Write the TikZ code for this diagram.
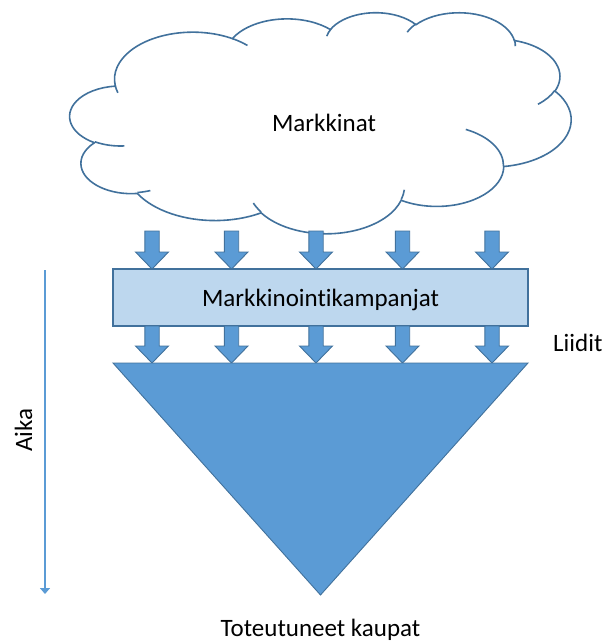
\documentclass[tikz,border=0pt]{standalone}
\usepackage{fontspec}
\setmainfont{Carlito}[Ligatures={NoCommon}]
\usetikzlibrary{arrows.meta}
\definecolor{accent}{HTML}{5B9BD5}
\definecolor{outl}{HTML}{41719C}
\definecolor{light}{HTML}{BDD7EE}
\newcommand\ooprep[5]{%
  \pgfmathsetmacro\ooT{atan2((#2)*sin(#4),(#3)*cos(#4))}%
  \pgfmathsetmacro\ooU{atan2((#2)*sin((#4)+(#5)),(#3)*cos((#4)+(#5)))}%
  \pgfmathsetmacro\ooV{mod((\ooU)-(\ooT)+720,360)}%
  \expandafter\let\csname ooS#1\endcsname\ooT
  \expandafter\let\csname ooD#1\endcsname\ooV}
\newcommand\ooS[1]{\csname ooS#1\endcsname}
\newcommand\ooD[1]{\csname ooD#1\endcsname}
\ooprep{1}{67.53}{91.90}{-190.48748}{123.78053}
\ooprep{2}{53.33}{72.67}{-144.10238}{89.94523}
\ooprep{3}{43.65}{59.45}{-145.80792}{99.72302}
\ooprep{4}{48.57}{65.95}{-130.98607}{117.24173}
\ooprep{5}{53.33}{72.73}{-78.70888}{109.02692}
\ooprep{6}{67.75}{92.20}{-46.26725}{130.269}
\ooprep{7}{57.85}{78.67}{0.62502}{114.03333}
\ooprep{8}{67.52}{92.15}{22.4516}{115.17255}
\ooprep{9}{77.20}{105.43}{66.24263}{75.71102}
\ooprep{10}{43.60}{59.18}{-274.94208}{146.73557}
\ooprep{11}{43.45}{59.45}{-246.8285}{152.51885}
\ooprep{21}{43.45}{59.45}{86.742}{26.4295}
\ooprep{22}{43.60}{59.18}{73.61047}{11.44747}
\ooprep{23}{67.52}{92.15}{137.62415}{14.0811}
\ooprep{24}{67.52}{92.15}{6.45327}{15.99835}
\ooprep{25}{57.85}{78.67}{-70.29235}{70.91737}
\ooprep{26}{53.33}{72.73}{30.31803}{27.7515}
\ooprep{27}{48.57}{65.95}{-13.74433}{14.8589}
\ooprep{28}{48.57}{65.95}{-149.18145}{18.19537}
\ooprep{29}{43.65}{59.45}{-163.49427}{17.68635}
\ooprep{30}{67.53}{91.90}{-66.70695}{12.31935}
\ooprep{31}{67.53}{91.90}{157.65435}{11.85817}
\begin{document}
\begin{tikzpicture}[x=1pt,y=-1pt,
  cloudline/.style={draw=outl, line width=1.6pt},
  blockarrow/.style={fill=accent, draw=outl, line width=0.9pt, line join=miter},
  campbox/.style={draw=outl, fill=light, line width=1.2pt, minimum width=415pt,
    minimum height=57pt, inner sep=0pt, text height=17pt, text depth=0pt,
    font=\fontsize{25}{30}\selectfont},
  lbl/.style={font=\fontsize{25}{30}\selectfont, text=black, inner sep=0pt},
  tri/.style={fill=accent, draw=outl, line width=0.9pt, line join=miter},
  aikaarrow/.style={draw=accent, line width=2pt, -{Triangle[length=6pt,width=10pt]}}]
\useasboundingbox (0,0) rectangle (606,643);
% cloud
\begin{scope}[shift={(70,12)}, x=1.15972pt, y=-0.51157pt]
\filldraw[cloudline, fill=white] (39.00,143.70)
  arc[start angle=\ooS{1}, delta angle=\ooD{1}, x radius=67.53, y radius=91.90]
  arc[start angle=\ooS{2}, delta angle=\ooD{2}, x radius=53.33, y radius=72.67]
  arc[start angle=\ooS{3}, delta angle=\ooD{3}, x radius=43.65, y radius=59.45]
  arc[start angle=\ooS{4}, delta angle=\ooD{4}, x radius=48.57, y radius=65.95]
  arc[start angle=\ooS{5}, delta angle=\ooD{5}, x radius=53.33, y radius=72.73]
  arc[start angle=\ooS{6}, delta angle=\ooD{6}, x radius=67.75, y radius=92.20]
  arc[start angle=\ooS{7}, delta angle=\ooD{7}, x radius=57.85, y radius=78.67]
  arc[start angle=\ooS{8}, delta angle=\ooD{8}, x radius=67.52, y radius=92.15]
  arc[start angle=\ooS{9}, delta angle=\ooD{9}, x radius=77.20, y radius=105.43]
  arc[start angle=\ooS{10}, delta angle=\ooD{10}, x radius=43.60, y radius=59.18]
  arc[start angle=\ooS{11}, delta angle=\ooD{11}, x radius=43.45, y radius=59.45]
  -- cycle;
\draw[cloudline]
  (46.93,261.77) arc[start angle=\ooS{21}, delta angle=\ooD{21}, x radius=43.45, y radius=59.45]
  (69.28,348.99) arc[start angle=\ooS{22}, delta angle=\ooD{22}, x radius=43.60, y radius=59.18]
  (164.78,390.90) arc[start angle=\ooS{23}, delta angle=\ooD{23}, x radius=67.52, y radius=92.15]
  (288.27,347.51) arc[start angle=\ooS{24}, delta angle=\ooD{24}, x radius=67.52, y radius=92.15]
  (341.29,229.54) arc[start angle=\ooS{25}, delta angle=\ooD{25}, x radius=57.85, y radius=78.67]
  (417.98,153.54) arc[start angle=\ooS{26}, delta angle=\ooD{26}, x radius=53.33, y radius=72.73]
  (383.24,54.26) arc[start angle=\ooS{27}, delta angle=\ooD{27}, x radius=48.57, y radius=65.95]
  (290.78,39.52) arc[start angle=\ooS{28}, delta angle=\ooD{28}, x radius=48.57, y radius=65.95]
  (221.41,47.20) arc[start angle=\ooS{29}, delta angle=\ooD{29}, x radius=43.65, y radius=59.45]
  (140.00,51.92) arc[start angle=\ooS{30}, delta angle=\ooD{30}, x radius=67.53, y radius=91.90]
  (41.27,157.89) arc[start angle=\ooS{31}, delta angle=\ooD{31}, x radius=67.53, y radius=91.90];
\end{scope}
\node[lbl, anchor=base] (mk) at (324,131.5) {Markkinat};
% campaign box
\node[campbox] (camp) at (320.5,297.5) {Markkinointikampanjat};
% block arrows
\foreach \x in {152,231.5,316,402.5,492}{
  \filldraw[blockarrow] (\x-7.2,231) -- (\x+7.2,231) -- (\x+7.2,252) -- (\x+16.5,252)
    -- (\x,269) -- (\x-16.5,252) -- (\x-7.2,252) -- cycle;
  \filldraw[blockarrow] (\x-7.2,326) -- (\x+7.2,326) -- (\x+7.2,346) -- (\x+16.5,346)
    -- (\x,363) -- (\x-16.5,346) -- (\x-7.2,346) -- cycle;
}
% funnel
\filldraw[tri] (113,363) -- (528,363) -- (320.5,595) -- cycle;
% labels
\node[lbl, anchor=base west] (liidit) at (553,351) {Liidit};
\node[lbl, anchor=base] (kaupat) at (320.5,636.5) {Toteutuneet kaupat};
\coordinate (aikatop) at (45,270);
\coordinate (aikabot) at (45,594);
\draw[aikaarrow] (aikatop) -- (aikabot);
\node[lbl, rotate=90, anchor=base] (aika) at (32,430) {Aika};
\end{tikzpicture}
\end{document}
